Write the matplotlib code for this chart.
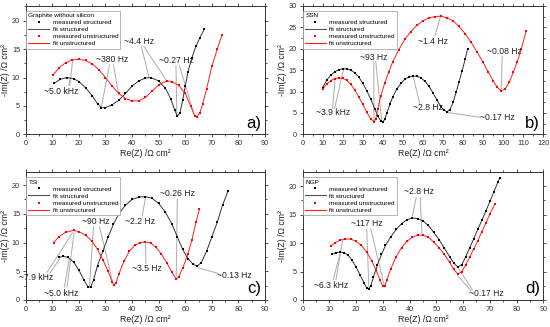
import matplotlib.pyplot as plt
from matplotlib.lines import Line2D
from matplotlib.ticker import MultipleLocator

plt.rcParams['font.family'] = ['Liberation Sans', 'DejaVu Sans']

# ---- data (Re(Z), -Im(Z)) in Ohm cm^2 ----
# a) graphite without silicon
a_str_x = [10.8, 13, 15.5, 18, 20, 22.5, 25, 27, 28.5, 30, 32.5, 35, 37.5, 40, 42.5, 45, 47,
           50, 52.5, 54.5, 56, 57, 58, 59, 60, 61, 62.5, 64, 65.5, 67.2]
a_str_y = [9.0, 9.7, 10.0, 9.8, 9.3, 8.2, 6.8, 5.4, 4.7, 4.7, 5.2, 6.0, 7.2, 8.5, 9.4, 9.9, 10.0,
           9.4, 8.1, 6.3, 4.3, 3.2, 3.8, 6.0, 8.5, 11.0, 13.5, 15.5, 17.0, 18.6]
a_uns_x = [10.2, 12.5, 15, 17.5, 20, 22.5, 25, 27.5, 30, 32.5, 35, 37.5, 40, 42.5, 45, 47.5,
           50, 53, 55, 57.5, 60, 62, 63.5, 64.3, 65.5, 66.5, 68, 70, 72, 73.8]
a_uns_y = [10.4, 11.7, 12.6, 13.1, 13.2, 13.0, 12.4, 11.4, 10.0, 8.5, 7.2, 6.3, 5.9, 5.9, 6.5, 7.6,
           8.7, 9.4, 9.3, 8.6, 7.2, 5.0, 3.3, 3.0, 3.8, 5.3, 8.0, 12.0, 15.0, 17.5]

# b) SSN
b_str_x = [10, 12, 14, 16, 18, 20, 22, 24, 26, 28, 30, 32, 34, 36, 37.5, 39, 40, 41, 42, 43.5,
           45, 47, 49, 51, 53, 55, 57, 59, 61, 63, 65, 67, 69, 70.5, 72, 73.5, 75, 76.5, 78, 79.5,
           81, 82.2]
b_str_y = [10.9, 12.6, 13.8, 14.6, 15.1, 15.3, 15.3, 15.0, 14.4, 13.4, 12.0, 10.2, 8.2, 6.0, 4.3,
           3.1, 2.9, 3.5, 5.0, 7.0, 8.8, 10.6, 11.9, 12.9, 13.4, 13.6, 13.6, 13.2, 12.4, 11.2, 9.7,
           8.0, 6.5, 5.6, 5.3, 5.8, 7.5, 9.8, 12.3, 14.8, 17.5, 19.9]
b_uns_x = [10, 12, 14, 16, 18, 20, 22, 24, 26, 28, 30, 32, 34, 35.5, 36.5, 37.5, 39, 41, 43, 45,
           48, 51, 54, 57, 60, 63, 66, 69, 72, 75, 78, 81, 84, 87, 90, 92.5, 95, 97, 99, 101, 103,
           105, 107, 109, 111.5]
b_uns_y = [10.5, 11.7, 12.5, 13.0, 13.2, 13.1, 12.6, 11.7, 10.4, 8.8, 7.0, 5.2, 3.6, 3.0, 3.6,
           6.0, 9.0, 12.0, 14.6, 17.0, 19.8, 22.2, 24.0, 25.5, 26.5, 27.2, 27.5, 27.6, 27.2, 26.5,
           25.2, 23.5, 21.5, 19.2, 16.8, 14.6, 12.5, 11.0, 10.2, 10.6, 12.2, 14.5, 17.0, 20.0, 24.2]

# c) TSi
c_str_x = [12.5, 14, 16, 18, 20, 22, 23.5, 24.5, 25.5, 27, 29, 31, 33, 35, 37.5, 40, 42.5, 45,
           47.5, 50, 52.5, 55, 57, 59, 61, 63, 64.5, 66, 68, 70, 72, 74, 76]
c_str_y = [7.4, 7.6, 7.4, 6.6, 5.2, 3.4, 2.2, 2.3, 3.5, 6.0, 8.5, 11.0, 13.2, 15.0, 16.5, 17.5,
           17.9, 18.0, 17.7, 16.8, 15.3, 13.2, 11.0, 8.8, 7.2, 6.2, 5.9, 6.5, 8.5, 11.0, 13.5,
           16.5, 18.9]
c_uns_x = [10.5, 12.5, 15, 18, 20, 22.5, 25, 27, 29, 31, 32.5, 33.2, 34, 35, 37, 39, 41, 43, 45,
           47, 49, 51, 53, 55, 56.5, 57.5, 59, 61, 62.5, 64, 65.3]
c_uns_y = [10.0, 11.0, 11.8, 12.1, 11.9, 11.3, 10.2, 8.8, 7.0, 5.0, 3.2, 2.6, 3.0, 4.5, 6.8, 8.5,
           9.5, 10.0, 10.1, 9.9, 9.2, 8.0, 6.5, 4.8, 3.7, 4.0, 5.5, 8.0, 10.5, 13.5, 15.8]

# d) NGP
d_str_x = [11, 12.5, 14, 15.5, 17, 18.5, 20, 21.5, 23, 24, 24.8, 25.5, 26.5, 28, 29.5, 31, 33,
           35, 37, 39, 41, 43, 45, 47, 49, 51, 53, 55, 56.5, 58, 59.5, 61, 62.5, 64, 65.5, 67,
           68.5, 70, 71.5, 73, 73.8]
d_str_y = [8.0, 8.3, 8.4, 8.3, 7.9, 7.0, 5.8, 4.4, 3.0, 2.1, 1.9, 2.5, 4.0, 6.2, 8.0, 9.6, 11.1,
           12.4, 13.4, 14.1, 14.4, 14.3, 13.9, 13.1, 11.9, 10.6, 9.1, 7.6, 6.5, 5.8, 6.2, 7.6, 9.2,
           10.8, 12.4, 14.0, 15.6, 17.3, 19.0, 20.7, 21.5]
d_uns_x = [10.5, 12, 14, 16, 18, 20, 22, 24, 26, 27.5, 29, 30, 30.8, 31.5, 33, 35, 37, 39, 41,
           43, 45, 47, 49, 51, 53, 55, 56.5, 58, 59.5, 61, 62.5, 64, 65.5, 67, 68.5, 70, 71.8]
d_uns_y = [9.4, 10.0, 10.5, 10.7, 10.7, 10.3, 9.6, 8.4, 6.8, 5.2, 3.5, 2.4, 2.5, 3.5, 5.5, 7.6,
           9.2, 10.3, 11.0, 11.4, 11.4, 11.0, 10.2, 9.2, 8.0, 6.6, 5.4, 4.6, 4.9, 6.2, 7.6, 9.0,
           10.4, 12.0, 13.5, 15.1, 16.8]

titles = ['Graphite without silicon', 'SSN', 'TSi', 'NGP']
panel_tags = ['a)', 'b)', 'c)', 'd)']
xmax = [90, 120, 90, 90]
ymax = [22.6, 30, 22.2, 22.4]

# frequency labels: (text, text position, [(line start), (line end)], ...)
notes = [
    [('~5.0 kHz', (13.5, 7.6), [((16.2, 8.6), (16.8, 10.0)), ((16.6, 8.6), (17.6, 12.8))]),
     ('~380 Hz', (32.5, 13.1), [((31.5, 12.2), (28.5, 5.0)), ((33.0, 12.2), (35.0, 6.9))]),
     ('~4.4 Hz', (42.5, 16.3), [((43.5, 15.4), (46.3, 10.2)), ((44.5, 15.4), (52.8, 9.6))]),
     ('~0.27 Hz', (56.5, 13.0), [((56.5, 12.1), (56.8, 3.6)), ((57.8, 12.1), (63.3, 3.5))])],
    [('~3.9 kHz', (15.3, 5.0), [((16.0, 6.1), (20.3, 15.0)), ((15.0, 6.1), (16.2, 12.8))]),
     ('~93 Hz', (35.5, 18.0), [((35.5, 17.0), (35.6, 3.4)), ((36.5, 17.0), (39.4, 3.4))]),
     ('~1.4 Hz', (65.0, 21.7), [((66.0, 23.0), (68.6, 27.3))]),
     ('~2.8 Hz', (62.5, 6.2), [((58.5, 7.0), (55.3, 13.2))]),
     ('~0.08 Hz', (100.5, 19.4), [((99.5, 18.2), (99.0, 10.6))]),
     ('~0.17 Hz', (97.0, 3.9), [((88.5, 4.0), (72.3, 5.1))])],
    [('~7.9 kHz', (4.0, 3.9), [((9.0, 4.6), (12.8, 7.2)), ((8.0, 4.8), (17.6, 11.7))]),
     ('~5.0 kHz', (13.5, 1.2), [((14.5, 2.2), (16.4, 7.2)), ((15.5, 2.2), (18.2, 11.7))]),
     ('~90 Hz', (26.5, 13.6), [((25.5, 12.7), (24.0, 2.5)), ((27.8, 12.7), (32.6, 3.3))]),
     ('~2.2 Hz', (43.0, 13.6), [((43.8, 14.6), (45.0, 17.7))]),
     ('~3.5 Hz', (45.5, 5.4), [((45.2, 6.4), (45.0, 9.8))]),
     ('~0.26 Hz', (57.0, 18.6), [((57.0, 17.6), (56.6, 4.1))]),
     ('~0.13 Hz', (78.5, 4.3), [((72.5, 4.6), (64.9, 5.6))])],
    [('~6.3 kHz', (10.8, 2.6), [((11.5, 3.6), (14.0, 8.1)), ((12.5, 3.6), (15.0, 10.4))]),
     ('~117 Hz', (24.0, 13.5), [((24.0, 12.5), (24.8, 2.2)), ((25.5, 12.5), (30.4, 2.8))]),
     ('~2.8 Hz', (43.5, 19.0), [((42.5, 18.0), (41.0, 14.7)), ((44.0, 18.0), (44.6, 11.7))]),
     ('~0.17 Hz', (68.7, 1.2), [((63.5, 1.8), (58.3, 5.5)), ((63.0, 1.6), (58.0, 4.3))])],
]

series = [(a_str_x, a_str_y, a_uns_x, a_uns_y),
          (b_str_x, b_str_y, b_uns_x, b_uns_y),
          (c_str_x, c_str_y, c_uns_x, c_uns_y),
          (d_str_x, d_str_y, d_uns_x, d_uns_y)]

rects = [[0.0467, 0.589, 0.4353, 0.393],
         [0.550, 0.589, 0.438, 0.393],
         [0.0467, 0.0826, 0.4353, 0.39],
         [0.550, 0.0826, 0.438, 0.39]]

fig = plt.figure(figsize=(5.5, 3.27), dpi=100)

for k in range(4):
    ax = fig.add_axes(rects[k])
    sx, sy, ux, uy = series[k]

    # fit lines, then the measured points
    ax.plot(sx, sy, color='#333333', lw=0.7, zorder=2)
    ax.plot(ux, uy, color='#ff2020', lw=0.7, zorder=2)
    ax.plot(sx, sy, 's', color='black', ms=1.5, mew=0, zorder=3)
    ax.plot(ux, uy, 's', color='red', ms=1.5, mew=0, zorder=3)

    for txt, pos, lines in notes[k]:
        ax.text(pos[0], pos[1], txt, fontsize=6.2, ha='center', va='center',
                color='#222222', zorder=4, clip_on=False)
        for p0, p1 in lines:
            ax.annotate('', xy=p1, xytext=p0,
                        arrowprops=dict(arrowstyle='-', color='#b0b0b0', lw=0.75,
                                        shrinkA=0, shrinkB=0), zorder=1)

    ax.set_xlim(0, xmax[k])
    ax.set_ylim(0, ymax[k])
    ax.xaxis.set_major_locator(MultipleLocator(10))
    ax.xaxis.set_minor_locator(MultipleLocator(5))
    ax.yaxis.set_major_locator(MultipleLocator(5))
    ax.yaxis.set_minor_locator(MultipleLocator(2.5))
    ax.tick_params(which='both', labelsize=5.3, width=0.6, colors='#333333',
                   top=True, right=True)
    ax.tick_params(which='major', length=2.5, pad=1.5)
    ax.tick_params(which='minor', length=1.3)
    for s in ax.spines.values():
        s.set_linewidth(0.7)
        s.set_color('#333333')

    ax.set_xlabel('Re(Z) /Ω cm²', fontsize=6.3, labelpad=1.5, color='#222222')
    ax.set_ylabel('-Im(Z) /Ω cm²', fontsize=6.3, labelpad=1.5, color='#222222')

    ax.text(0.985, 0.03, panel_tags[k], transform=ax.transAxes, fontsize=12,
            ha='right', va='bottom')

    handles = [Line2D([], [], ls='none', marker='s', ms=1.6, mew=0, color='black'),
               Line2D([], [], color='#555555', lw=0.8),
               Line2D([], [], ls='none', marker='s', ms=1.6, mew=0, color='red'),
               Line2D([], [], color='#ff2020', lw=0.8)]
    labels = ['measured structured', 'fit structured',
              'measured unstructured', 'fit unstructured']
    leg = ax.legend(handles, labels, title=titles[k], loc='upper left',
                    bbox_to_anchor=(0.002, 0.962), fontsize=4.6,
                    title_fontsize=4.6, frameon=True, fancybox=False, framealpha=1,
                    edgecolor='#999999', borderpad=0.35, labelspacing=0.25,
                    handlelength=3.2, handletextpad=0.6, borderaxespad=0,
                    alignment='left')
    leg.get_frame().set_linewidth(0.5)

fig.savefig('out.png', dpi=100)
